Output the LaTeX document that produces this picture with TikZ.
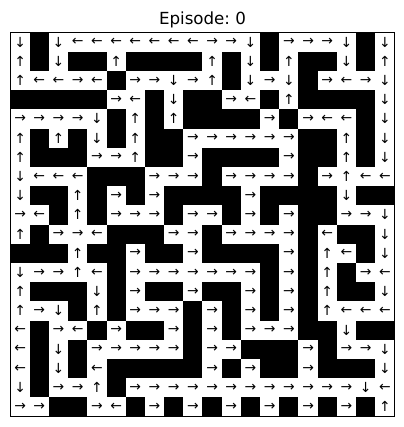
\documentclass[tikz,border=0pt]{standalone}
\usepackage{fontspec}
\setmainfont{DejaVu Sans}
\usepackage{xcolor}
\frenchspacing

% glyphs for the policy
\newcommand{\arrU}{↑}
\newcommand{\arrD}{↓}
\newcommand{\arrL}{←}
\newcommand{\arrR}{→}

\tikzset{
  wall/.style={fill=black},
  move/.style={font=\fontsize{10}{12}\selectfont, inner sep=0pt, text=black},
  title/.style={font=\fontsize{12}{14}\selectfont, anchor=base}
}

\begin{document}
\begin{tikzpicture}[x=13.824pt, y=-13.824pt]
  \useasboundingbox (-0.547,-1.693) rectangle (20.495,20.547);
  \node[title] (episode) at (10,-0.443) {Episode: 0};
  % Maze: B = wall, U/D/L/R = greedy action
  \foreach \row [count=\r from 0] in {
    {D,B,D,L,L,L,L,L,L,L,R,R,D,B,R,R,R,D,B,D},
    {U,B,D,B,B,U,B,B,B,B,U,B,D,B,U,B,B,D,B,U},
    {U,L,L,R,L,B,R,R,D,R,U,B,D,R,D,B,R,L,R,D},
    {B,B,B,B,B,R,L,B,D,B,B,R,L,B,U,B,B,B,B,D},
    {R,R,R,R,D,B,U,B,U,B,B,B,B,R,B,R,L,L,B,D},
    {U,B,U,B,D,B,U,B,B,R,R,R,R,R,R,B,B,U,B,D},
    {U,B,B,B,R,R,U,B,B,R,B,B,B,B,R,B,B,U,B,D},
    {D,L,L,L,B,B,B,R,R,R,B,R,R,R,R,B,R,U,L,L},
    {D,B,B,U,B,R,B,R,B,B,B,B,R,B,B,B,B,D,B,B},
    {R,L,B,U,B,R,R,R,B,R,R,B,R,B,R,B,B,R,R,D},
    {U,B,R,R,L,B,B,B,R,R,B,R,R,R,R,B,L,B,B,D},
    {B,B,B,U,B,B,R,B,B,R,B,B,B,B,R,B,U,L,B,D},
    {D,R,R,U,L,B,R,R,R,R,R,R,R,B,R,B,U,B,R,L},
    {U,B,B,B,D,B,R,B,B,R,B,B,R,B,R,B,U,B,B,D},
    {U,R,D,B,U,B,R,R,R,B,R,B,R,B,R,B,U,L,L,L},
    {L,B,R,L,B,R,B,B,R,B,R,B,R,R,R,B,B,D,B,B},
    {L,B,D,B,R,R,R,R,R,B,R,R,B,B,B,R,B,R,R,D},
    {L,B,D,B,L,B,B,B,B,B,R,B,R,B,B,R,B,B,B,D},
    {D,B,R,R,U,B,R,R,R,R,R,R,R,R,R,R,R,R,D,L},
    {R,R,B,B,R,L,B,R,B,R,B,R,B,R,B,R,B,R,B,U}}{
    \foreach \v [count=\c from 0] in \row {
      \if\v B
        \fill[wall] (\c,\r) rectangle ++(1,1);
      \else
        \node[move] (m-\r-\c) at (\c+0.5,\r+0.5) {\csname arr\v\endcsname};
      \fi
    }
  }
  % Frame
  \draw[line width=0.8pt] (0,0) rectangle (20,20);
\end{tikzpicture}
\end{document}
